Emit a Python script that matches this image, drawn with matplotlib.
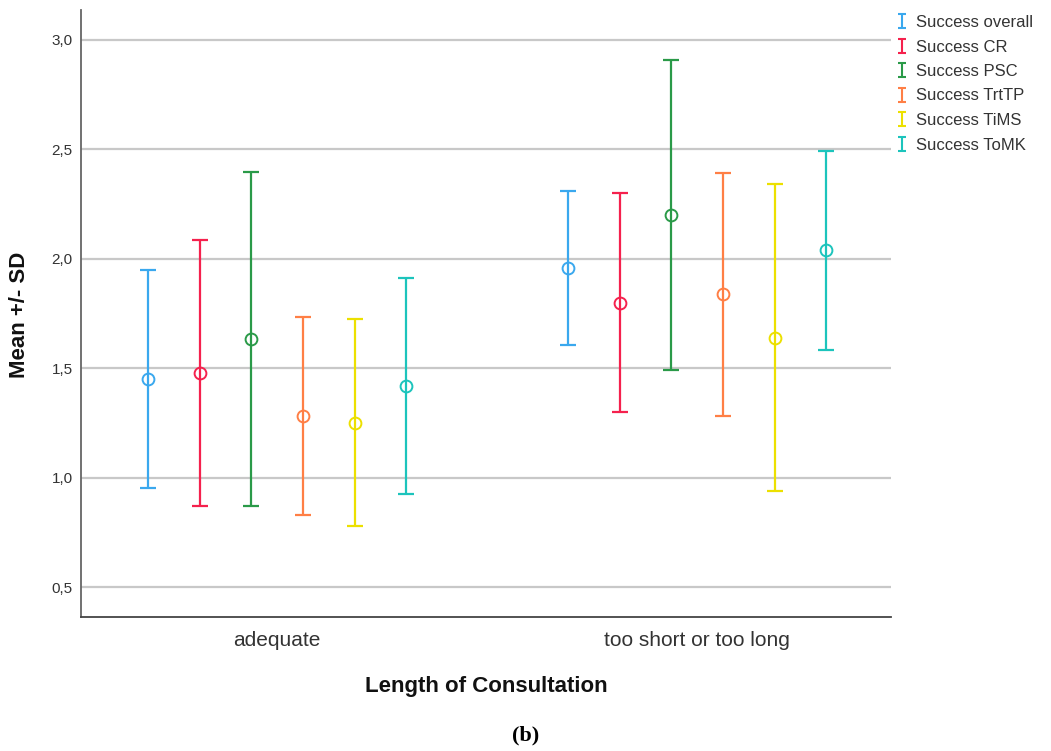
import numpy as np
import matplotlib
matplotlib.use("Agg")
import matplotlib.pyplot as plt
from matplotlib.legend_handler import HandlerErrorbar
from matplotlib.container import ErrorbarContainer

plt.rcParams['font.family'] = ['Liberation Sans', 'DejaVu Sans']

# data (mean and SD per group)
groups = ["adequate", "too short or too long"]
series = ["Success overall", "Success CR", "Success PSC",
          "Success TrtTP", "Success TiMS", "Success ToMK"]
colors = ["#3aa8ee", "#f5214d", "#2a9a48", "#ff7f45", "#ece000", "#1cc4bc"]

mean_adequate = [1.451, 1.478, 1.635, 1.285, 1.252, 1.419]
sd_adequate = [0.499, 0.607, 0.764, 0.452, 0.472, 0.494]
mean_too = [1.960, 1.800, 2.201, 1.839, 1.640, 2.039]
sd_too = [0.351, 0.501, 0.708, 0.554, 0.701, 0.454]

yticks = [0.5, 1.0, 1.5, 2.0, 2.5, 3.0]

means = np.array([mean_adequate, mean_too])
sds = np.array([sd_adequate, sd_too])

fig = plt.figure(figsize=(10.51, 7.51), dpi=100)
ax = fig.add_axes([0.0771, 0.1784, 0.7707, 0.8083])

x0 = np.arange(len(groups))
step = 0.123
handles = []
for i, name in enumerate(series):
    xs = x0 + (i - 2.5) * step
    ax.errorbar(xs, means[:, i], yerr=sds[:, i], fmt='none', ecolor=colors[i],
                elinewidth=1.6, capsize=6, capthick=1.6, zorder=3)
    ax.plot(xs, means[:, i], 'o', ms=8.5, mfc='none', mec=colors[i], mew=1.4, zorder=4)
    # small "I" proxy for the legend
    h = ax.errorbar([np.nan], [np.nan], yerr=[np.nan], fmt='none', ecolor=colors[i],
                    elinewidth=1.5, capsize=2.8, capthick=1.5, label=name)
    handles.append(h)

ax.set_xlim(-0.467, 1.462)
ax.set_ylim(0.365, 3.137)
ax.set_xticks(x0)
ax.set_xticklabels(groups, fontsize=15, color='#333333')
ax.set_yticks(yticks)
ax.set_yticklabels([f"{t:.1f}".replace('.', ',') for t in yticks], fontsize=11, color='#333333')
ax.tick_params(axis='x', length=0, pad=10)
ax.tick_params(axis='y', length=0, pad=6)

ax.grid(axis='y', color='#c8c8c8', lw=1.6)
ax.set_axisbelow(True)
for s in ['top', 'right']:
    ax.spines[s].set_visible(False)
ax.spines['left'].set_color('#666666')
ax.spines['bottom'].set_color('#444444')
ax.spines['left'].set_linewidth(1.3)
ax.spines['bottom'].set_linewidth(1.3)

ax.set_ylabel("Mean +/- SD", fontsize=16, fontweight='bold', color='#111111')
ax.yaxis.set_label_coords(-0.0625, 0.4975)
xl = ax.set_xlabel("Length of Consultation", fontsize=16, fontweight='bold', color='#111111')
xl.set_va('center')
ax.xaxis.set_label_coords(0.5, -0.114)

ax.legend(handles=handles, loc='upper left', bbox_to_anchor=(896 / 1051, 1 - 15 / 751),
          bbox_transform=fig.transFigure, frameon=False, fontsize=12,
          handlelength=0.7, handletextpad=0.5, labelspacing=0.57,
          borderaxespad=0, borderpad=0, labelcolor='#333333',
          handler_map={ErrorbarContainer: HandlerErrorbar(yerr_size=0.42)})

fig.text(526 / 1051, 1 - 735 / 751, "(b)", fontsize=16, fontweight='bold',
         family='Liberation Serif', ha='center', va='center')

fig.savefig("out.png", dpi=100)
